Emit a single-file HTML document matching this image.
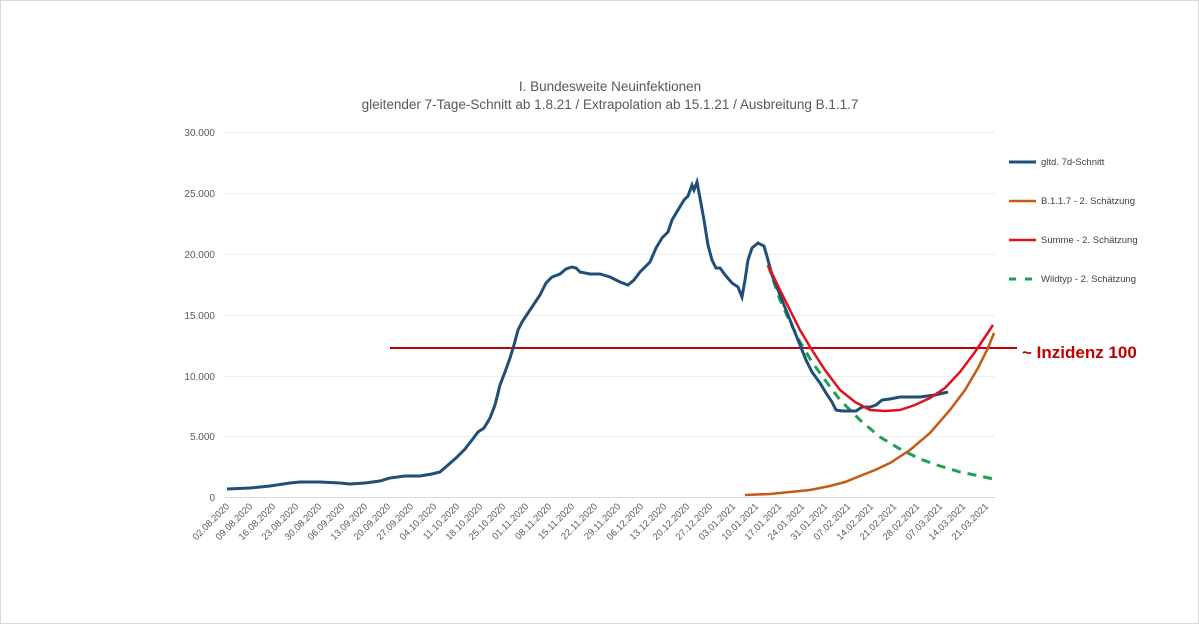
<!DOCTYPE html><html><head><style>body{margin:0;background:#fff}svg{display:block;font-family:"Liberation Sans",sans-serif}</style></head><body>
<svg width="1199" height="624" viewBox="0 0 1199 624">
<rect x="0.5" y="0.5" width="1198" height="623" fill="#fff" stroke="#d9d9d9"/>
<text x="610" y="91" text-anchor="middle" font-size="13.5" fill="#595959">I. Bundesweite Neuinfektionen</text>
<text x="610" y="109" text-anchor="middle" font-size="13.5" fill="#595959">gleitender 7-Tage-Schnitt ab 1.8.21 / Extrapolation ab 15.1.21 / Ausbreitung B.1.1.7</text>
<g stroke="#eeeeee" stroke-width="1">
<line x1="224" x2="995" y1="132.5" y2="132.5"/><line x1="224" x2="995" y1="193.5" y2="193.5"/><line x1="224" x2="995" y1="254.5" y2="254.5"/><line x1="224" x2="995" y1="315.5" y2="315.5"/><line x1="224" x2="995" y1="376.5" y2="376.5"/><line x1="224" x2="995" y1="436.5" y2="436.5"/></g>
<line x1="224" x2="995" y1="497.5" y2="497.5" stroke="#d9d9d9"/>
<g font-size="10" fill="#595959" text-anchor="end">
<text x="215" y="136">30.000</text><text x="215" y="197">25.000</text><text x="215" y="258">20.000</text><text x="215" y="319">15.000</text><text x="215" y="380">10.000</text><text x="215" y="440">5.000</text><text x="215" y="501">0</text></g>
<g font-size="9.5" fill="#595959" text-anchor="end" id="xl"></g>
<line x1="390" x2="1017" y1="348" y2="348" stroke="#c00000" stroke-width="2"/>
<text x="1022" y="358" font-size="17" font-weight="bold" fill="#c00000">~ Inzidenz 100</text>
<polyline fill="none" stroke="#c55a11" stroke-width="2.5" points="745,495 770,494 790,492 810,490 830,486 845,482 860,476 875,470 890,463 910,450 930,433 950,410 965,390 978,368 988,348 994,333"/>
<polyline fill="none" stroke="#1fa055" stroke-width="3" stroke-dasharray="9,7" points="768,265 780,300 790,322 800,342 812,362 825,380 840,400 860,420 880,437 900,449 920,459 940,466 960,472 980,476 993,479"/>
<polyline fill="none" stroke="#1f4e79" stroke-width="3" points="227,489 250,488 270,486 290,483 300,482 320,482 340,483 350,484 365,483 380,481 390,478 405,476 420,476 432,474 440,472 448,465 456,458 465,449 472,440 478,432 484,428 490,418 495,405 500,385 505,372 510,358 514,345 518,330 522,322 528,313 534,304 540,295 546,283 552,277 560,274 566,269 572,267 576,268 580,272 590,274 600,274 610,277 620,282 628,285 634,280 640,272 650,262 656,248 662,238 668,232 672,220 678,210 684,200 688,196 692,185 694,190 697,182 700,198 704,220 708,245 712,260 716,268 720,268 726,276 732,283 738,287 742,297 745,280 748,260 752,248 758,243 764,246 768,260 772,275 778,290 784,305 790,320 798,340 806,360 812,372 820,383 826,393 832,402 836,410 842,411 850,411 856,411 862,407 870,407 876,405 882,400 890,399 900,397 910,397 920,397 935,395 948,392"/>
<polyline fill="none" stroke="#e01020" stroke-width="2.5" points="768,265 780,290 790,310 800,330 812,350 825,370 840,390 855,402 870,410 885,411 900,410 915,405 930,398 945,388 960,372 975,352 985,337 993,325"/>
<g font-size="9.5" fill="#404040">
<line x1="1009" x2="1036" y1="162" y2="162" stroke="#1f4e79" stroke-width="3"/><text x="1041" y="165">gltd. 7d-Schnitt</text>
<line x1="1009" x2="1036" y1="201" y2="201" stroke="#c55a11" stroke-width="2.5"/><text x="1041" y="204">B.1.1.7 - 2. Schätzung</text>
<line x1="1009" x2="1036" y1="240" y2="240" stroke="#e01020" stroke-width="2.5"/><text x="1041" y="243">Summe - 2. Schätzung</text>
<line x1="1009" x2="1036" y1="279" y2="279" stroke="#1fa055" stroke-width="3" stroke-dasharray="7,9"/><text x="1041" y="282">Wildtyp - 2. Schätzung</text></g>
<g font-size="9.5" fill="#595959" text-anchor="end">
<text transform="translate(230,507) rotate(-45)">02.08.2020</text><text transform="translate(253,507) rotate(-45)">09.08.2020</text><text transform="translate(276,507) rotate(-45)">16.08.2020</text><text transform="translate(299,507) rotate(-45)">23.08.2020</text><text transform="translate(322,507) rotate(-45)">30.08.2020</text><text transform="translate(345,507) rotate(-45)">06.09.2020</text><text transform="translate(368,507) rotate(-45)">13.09.2020</text><text transform="translate(391,507) rotate(-45)">20.09.2020</text><text transform="translate(414,507) rotate(-45)">27.09.2020</text><text transform="translate(437,507) rotate(-45)">04.10.2020</text><text transform="translate(460,507) rotate(-45)">11.10.2020</text><text transform="translate(483,507) rotate(-45)">18.10.2020</text><text transform="translate(506,507) rotate(-45)">25.10.2020</text><text transform="translate(529,507) rotate(-45)">01.11.2020</text><text transform="translate(552,507) rotate(-45)">08.11.2020</text><text transform="translate(575,507) rotate(-45)">15.11.2020</text><text transform="translate(598,507) rotate(-45)">22.11.2020</text><text transform="translate(621,507) rotate(-45)">29.11.2020</text><text transform="translate(644,507) rotate(-45)">06.12.2020</text><text transform="translate(667,507) rotate(-45)">13.12.2020</text><text transform="translate(690,507) rotate(-45)">20.12.2020</text><text transform="translate(713,507) rotate(-45)">27.12.2020</text><text transform="translate(736,507) rotate(-45)">03.01.2021</text><text transform="translate(759,507) rotate(-45)">10.01.2021</text><text transform="translate(782,507) rotate(-45)">17.01.2021</text><text transform="translate(805,507) rotate(-45)">24.01.2021</text><text transform="translate(828,507) rotate(-45)">31.01.2021</text><text transform="translate(851,507) rotate(-45)">07.02.2021</text><text transform="translate(874,507) rotate(-45)">14.02.2021</text><text transform="translate(897,507) rotate(-45)">21.02.2021</text><text transform="translate(920,507) rotate(-45)">28.02.2021</text><text transform="translate(943,507) rotate(-45)">07.03.2021</text><text transform="translate(966,507) rotate(-45)">14.03.2021</text><text transform="translate(989,507) rotate(-45)">21.03.2021</text>
</g>
</svg></body></html>
